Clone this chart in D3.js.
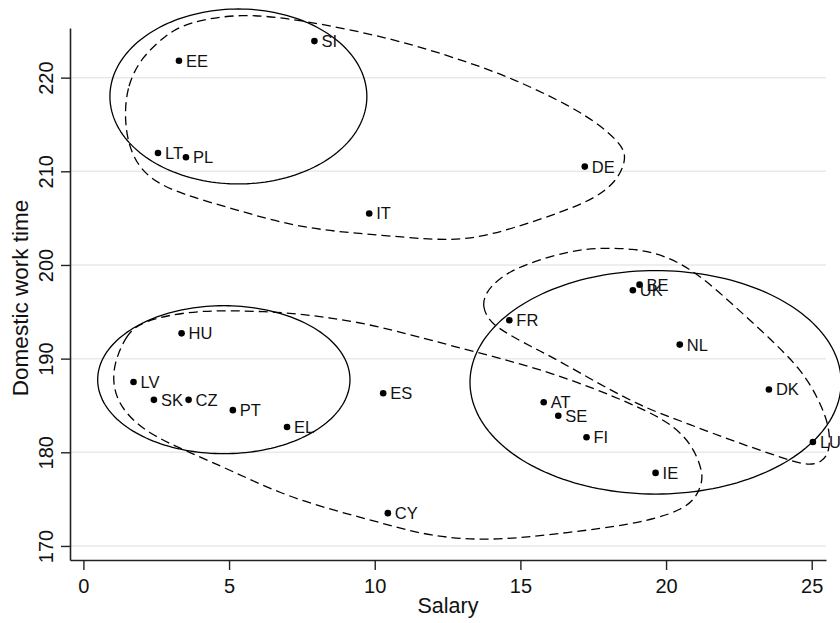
<!DOCTYPE html>
<html>
<head>
<meta charset="utf-8">
<script src="https://cdn.jsdelivr.net/npm/d3@7"></script>
<style>
  body { margin: 0; background: #fff; }
  svg { display: block; font-family: "Liberation Sans", Arial, sans-serif; }
</style>
</head>
<body>
<svg id="chart" width="840" height="623"></svg>
<script>
// countries, salary (x) and domestic work time (y)
const countries = ["EE", "LT", "PL", "SI", "DE", "IT", "HU", "LV", "SK", "CZ", "PT", "EL", "ES", "CY",
  "AT", "SE", "FI", "IE", "BE", "UK", "FR", "NL", "DK", "LU"];
const salary = [3.28, 2.56, 3.52, 7.93, 17.21, 9.81, 3.37, 1.72, 2.42, 3.61, 5.13, 6.99, 10.29, 10.45,
  15.80, 16.30, 17.27, 19.64, 19.09, 18.86, 14.62, 20.47, 23.53, 25.04];
const domestic = [221.8, 211.95, 211.5, 223.9, 210.5, 205.5, 192.7, 187.5, 185.6, 185.6, 184.5, 182.7, 186.3, 173.5,
  185.35, 183.9, 181.6, 177.8, 197.9, 197.3, 194.1, 191.5, 186.7, 181.1];

const xTicks = [0, 5, 10, 15, 20, 25];
const yTicks = [170, 180, 190, 200, 210, 220];

// solid ellipses: centre and radii, in data units
const ellipseCx = [5.32, 4.82, 19.64];
const ellipseCy = [217.99, 187.75, 187.47];
const ellipseRx = [4.41, 4.33, 6.37];
const ellipseRy = [9.34, 7.90, 11.93];

// dashed outlines, [salary, domestic] pairs
const outlineTop = [[1.40, 215.5], [1.50, 219.2], [2.00, 222.2], [2.85, 224.6], [3.56, 225.9],
  [5.38, 226.9], [7.44, 226.2], [10.63, 224.2], [13.17, 221.7], [14.75, 219.9], [16.71, 217.0],
  [17.80, 214.8], [18.55, 212.6], [18.62, 211.1], [18.30, 208.9], [17.55, 207.1], [16.46, 205.7],
  [14.75, 203.9], [13.27, 202.7], [11.90, 202.7], [10.18, 203.2], [8.47, 203.6], [6.75, 204.5],
  [5.14, 206.0], [3.42, 207.5], [2.20, 209.2], [1.60, 212.0]];
const outlineBottom = [[1.00, 189.11], [1.45, 192.5], [2.00, 194.0], [3.56, 195.05], [5.14, 195.15],
  [6.85, 194.95], [8.47, 194.4], [10.18, 193.45], [12.58, 191.4], [16.02, 188.7], [19.11, 184.85],
  [20.30, 182.8], [20.92, 180.6], [21.20, 178.4], [21.27, 177.0], [21.03, 175.1], [20.55, 173.9],
  [19.69, 172.95], [18.42, 172.1], [16.02, 171.2], [13.96, 170.55], [11.90, 171.0], [10.18, 172.5],
  [8.47, 173.9], [6.75, 175.6], [5.14, 177.95], [3.56, 180.1], [2.25, 181.95], [1.45, 184.1], [1.05, 186.34]];
const outlineRight = [[13.90, 194.13], [13.70, 195.6], [13.78, 196.7], [14.00, 197.8], [14.60, 199.3],
  [15.57, 200.5], [16.70, 201.45], [17.49, 201.8], [18.87, 201.8], [20.03, 201.0], [21.20, 198.85],
  [22.35, 195.6], [23.50, 192.35], [24.66, 188.8], [25.26, 185.55], [25.62, 182.65], [25.62, 180.1],
  [25.36, 178.95], [24.84, 178.5], [23.67, 179.75], [22.54, 180.95], [21.41, 182.25], [20.24, 183.65],
  [19.11, 184.95], [17.39, 187.85], [16.02, 190.3], [15.44, 191.15], [14.35, 193.0]];

const svg = d3.select("#chart");

const x = d3.scaleLinear().domain([-0.46, 25.49]).range([70, 826]);
const y = d3.scaleLinear().domain([168.5, 225.3]).range([560, 28]);

// grid
svg.append("g")
  .selectAll("line")
  .data(yTicks)
  .join("line")
  .attr("x1", x.range()[0])
  .attr("x2", x.range()[1])
  .attr("y1", d => y(d))
  .attr("y2", d => y(d))
  .attr("stroke", "#e9e9e9")
  .attr("stroke-width", 1.5);

// axes
const yAxis = svg.append("g")
  .attr("transform", `translate(${x.range()[0]},0)`)
  .call(d3.axisLeft(y).tickValues(yTicks).tickSize(9).tickSizeOuter(0));
yAxis.selectAll("text")
  .attr("transform", "rotate(-90)")
  .attr("x", 0)
  .attr("y", -17)
  .attr("dy", 0)
  .attr("text-anchor", "middle");

const xAxis = svg.append("g")
  .attr("transform", `translate(0,${y.range()[0]})`)
  .call(d3.axisBottom(x).tickValues(xTicks).tickSize(10).tickSizeOuter(0));
xAxis.selectAll("text").attr("y", 33).attr("dy", 0);

svg.selectAll(".domain").attr("stroke", "#222").attr("stroke-width", 1.6);
svg.selectAll(".tick line").attr("stroke", "#222").attr("stroke-width", 1.4);
svg.selectAll(".tick text")
  .attr("fill", "#111")
  .style("font-size", "20px")
  .style("font-family", "'Liberation Sans', Arial, sans-serif");

// axis titles
svg.append("text")
  .attr("x", 448)
  .attr("y", 613)
  .attr("text-anchor", "middle")
  .style("font-size", "21.5px")
  .attr("fill", "#111")
  .text("Salary");

svg.append("text")
  .attr("transform", "translate(28,298) rotate(-90)")
  .attr("text-anchor", "middle")
  .style("font-size", "22.5px")
  .attr("fill", "#111")
  .text("Domestic work time");

// ellipses
const ellipseLine = d3.line().curve(d3.curveLinearClosed);
const angles = d3.range(0, 2 * Math.PI, Math.PI / 90);
svg.append("g")
  .selectAll("path")
  .data(d3.range(ellipseCx.length))
  .join("path")
  .attr("d", i => ellipseLine(angles.map(t => [
    x(ellipseCx[i] + ellipseRx[i] * Math.cos(t)),
    y(ellipseCy[i] + ellipseRy[i] * Math.sin(t))
  ])))
  .attr("fill", "none")
  .attr("stroke", "#000")
  .attr("stroke-width", 1.3);

// dashed outlines
const outlineLine = d3.line()
  .x(d => x(d[0]))
  .y(d => y(d[1]))
  .curve(d3.curveBasisClosed);
svg.append("g")
  .selectAll("path")
  .data([outlineTop, outlineBottom, outlineRight])
  .join("path")
  .attr("d", outlineLine)
  .attr("fill", "none")
  .attr("stroke", "#000")
  .attr("stroke-width", 1.3)
  .attr("stroke-dasharray", "9,5");

// points and labels
const idx = d3.range(countries.length);
svg.append("g")
  .selectAll("circle")
  .data(idx)
  .join("circle")
  .attr("cx", i => x(salary[i]))
  .attr("cy", i => y(domestic[i]))
  .attr("r", 3.3)
  .attr("fill", "#000");

svg.append("g")
  .selectAll("text")
  .data(idx)
  .join("text")
  .attr("x", i => x(salary[i]) + 7)
  .attr("y", i => y(domestic[i]))
  .attr("dy", "0.36em")
  .style("font-size", "16.5px")
  .attr("fill", "#111")
  .text(i => countries[i]);
</script>
</body>
</html>
